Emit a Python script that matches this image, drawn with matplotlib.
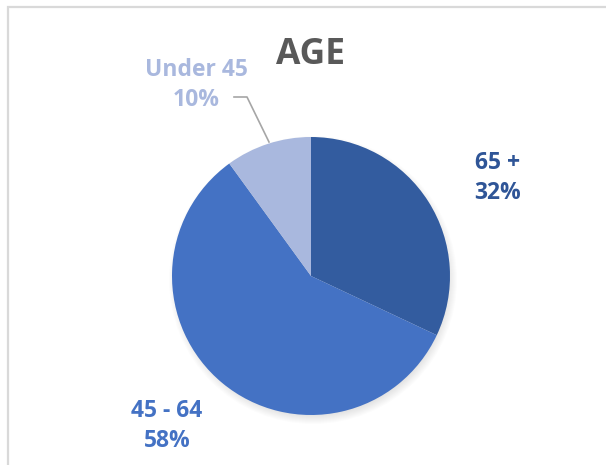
import numpy as np
import matplotlib
matplotlib.use("Agg")
import matplotlib.pyplot as plt
from matplotlib.patches import Circle

plt.rcParams['font.family'] = ['Open Sans', 'DejaVu Sans']

# age groups, in drawing order (clockwise from 12 o'clock)
groups = ["65 +", "45 - 64", "Under 45"]
shares = [32, 58, 10]
colours = ["#335C9F", "#4472C4", "#A9B8DE"]
label_colours = ["#2F5597", "#4472C4", "#A9B8DE"]

W, H = 606, 465
fig = plt.figure(figsize=(W / 100, H / 100), dpi=100)
ax = fig.add_axes([0, 0, 1, 1])

cx, cy, r = 311, H - 276, 139

# soft shadow under the pie
for k in range(10):
    ax.add_patch(Circle((cx + 2, cy - 4), r + 5 - k, color="black",
                        alpha=0.012, lw=0, zorder=1))

wedges, _ = ax.pie(shares, colors=colours, startangle=90, counterclock=False,
                   center=(cx, cy), radius=r, frame=True,
                   wedgeprops=dict(linewidth=0, zorder=2))
ax.set_xlim(0, W)
ax.set_ylim(0, H)
ax.set_aspect("equal")
ax.axis("off")

# chart area border (top and left edges visible)
ax.plot([8, 8, W], [0, H - 7.5, H - 7.5], color="#D9D9D9", lw=1.6,
        solid_joinstyle="miter", zorder=0)

ax.text(cx, H - 55, "AGE", ha="center", va="center", fontsize=25.5,
        fontweight="bold", color="#595959")

# data labels
label_pos = [(498, 178), (167, 426), (196, 85)]
for name, v, (lx, ly), c in zip(groups, shares, label_pos, label_colours):
    ax.text(lx, H - ly, f"{name}\n{v}%", ha="center", va="center",
            fontsize=16.5, fontweight="bold", color=c, linespacing=1.35)

# leader line for the small slice
ax.plot([234, 247, 269], [H - 97, H - 97, H - 142], color="#A6A6A6",
        lw=1.2, zorder=3)

fig.savefig("out.png", dpi=100)
